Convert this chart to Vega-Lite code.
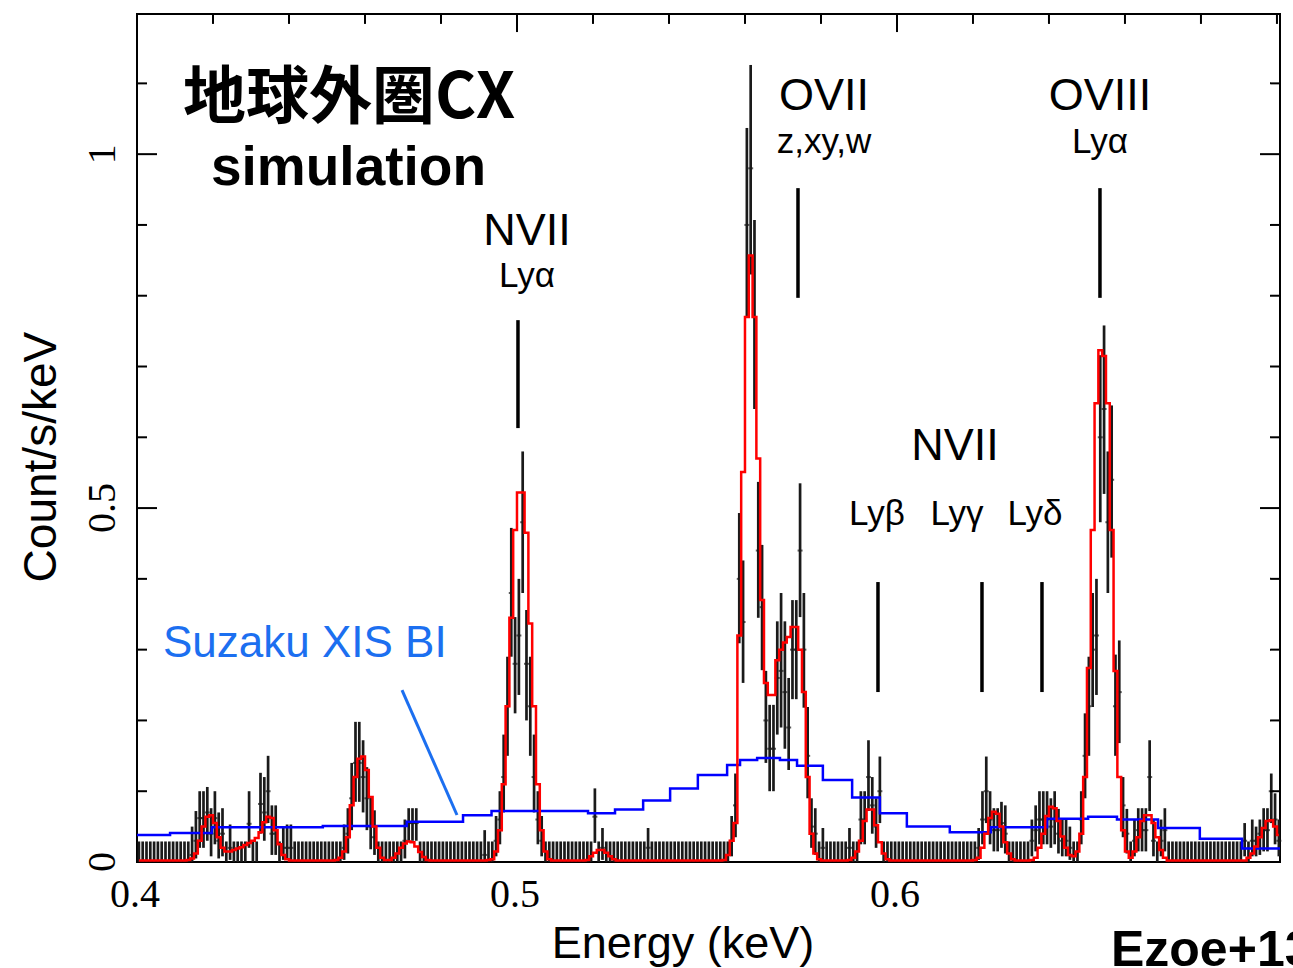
{
  "$schema": "https://vega.github.io/schema/vega-lite/v6.json",
  "width": 1143,
  "height": 848,
  "autosize": {"type": "none"},
  "padding": {"left": 137, "top": 14, "right": 13, "bottom": 106},
  "background": "white",
  "config": {"view": {"stroke": "black", "strokeWidth": 2}},
  "datasets": {
    "spec": [
      {"e":0.4005,"lo":0,"hi":0.029,"v":0,"m":0.002},{"e":0.4015,"lo":0,"hi":0.029,"v":0,"m":0.002},{"e":0.4025,"lo":0,"hi":0.029,"v":0,"m":0.002},{"e":0.4035,"lo":0,"hi":0.029,"v":0,"m":0.002},{"e":0.4045,"lo":0,"hi":0.029,"v":0,"m":0.002},
      {"e":0.4055,"lo":0,"hi":0.029,"v":0,"m":0.002},{"e":0.4065,"lo":0,"hi":0.029,"v":0,"m":0.002},{"e":0.4075,"lo":0,"hi":0.029,"v":0,"m":0.002},{"e":0.4085,"lo":0,"hi":0.029,"v":0,"m":0.002},{"e":0.4095,"lo":0,"hi":0.029,"v":0,"m":0.002},
      {"e":0.4105,"lo":0,"hi":0.029,"v":0,"m":0.002},{"e":0.4115,"lo":0,"hi":0.029,"v":0,"m":0.002},{"e":0.4125,"lo":0,"hi":0.029,"v":0,"m":0.002},{"e":0.4135,"lo":0,"hi":0.029,"v":0,"m":0.003},{"e":0.4145,"lo":0,"hi":0.05,"v":0.01,"m":0.005},
      {"e":0.4155,"lo":0.005,"hi":0.072,"v":0.03,"m":0.012},{"e":0.4165,"lo":0.02,"hi":0.1,"v":0.062,"m":0.03},{"e":0.4175,"lo":0.02,"hi":0.1,"v":0.062,"m":0.05},{"e":0.4185,"lo":0.03,"hi":0.106,"v":0.07,"m":0.064},{"e":0.4195,"lo":0.008,"hi":0.076,"v":0.04,"m":0.066},
      {"e":0.4205,"lo":0.025,"hi":0.1,"v":0.062,"m":0.055},{"e":0.4215,"lo":0.005,"hi":0.07,"v":0.03,"m":0.035},{"e":0.4225,"lo":0.008,"hi":0.076,"v":0.04,"m":0.02},{"e":0.4235,"lo":0,"hi":0.029,"v":0,"m":0.015},{"e":0.4245,"lo":0.003,"hi":0.053,"v":0.02,"m":0.015},
      {"e":0.4255,"lo":0,"hi":0.029,"v":0,"m":0.017},{"e":0.4265,"lo":0,"hi":0.029,"v":0,"m":0.019},{"e":0.4275,"lo":0,"hi":0.029,"v":0,"m":0.021},{"e":0.4285,"lo":0,"hi":0.029,"v":0,"m":0.024},{"e":0.4295,"lo":0.02,"hi":0.1,"v":0.054,"m":0.027},
      {"e":0.4305,"lo":0,"hi":0.029,"v":0,"m":0.03},{"e":0.4315,"lo":0,"hi":0.029,"v":0,"m":0.034},{"e":0.4325,"lo":0.04,"hi":0.126,"v":0.082,"m":0.042},{"e":0.4335,"lo":0.03,"hi":0.12,"v":0.07,"m":0.056},{"e":0.4345,"lo":0.055,"hi":0.15,"v":0.1,"m":0.064},
      {"e":0.4355,"lo":0.01,"hi":0.08,"v":0.04,"m":0.062},{"e":0.4365,"lo":0.01,"hi":0.08,"v":0.04,"m":0.045},{"e":0.4375,"lo":0,"hi":0.029,"v":0,"m":0.025},{"e":0.4385,"lo":0.003,"hi":0.05,"v":0.02,"m":0.01},{"e":0.4395,"lo":0.003,"hi":0.053,"v":0.02,"m":0.004},
      {"e":0.4405,"lo":0.003,"hi":0.053,"v":0.02,"m":0.002},{"e":0.4415,"lo":0,"hi":0.029,"v":0,"m":0.002},{"e":0.4425,"lo":0,"hi":0.029,"v":0,"m":0.002},{"e":0.4435,"lo":0,"hi":0.029,"v":0,"m":0.002},{"e":0.4445,"lo":0,"hi":0.029,"v":0,"m":0.002},
      {"e":0.4455,"lo":0,"hi":0.029,"v":0,"m":0.002},{"e":0.4465,"lo":0,"hi":0.029,"v":0,"m":0.002},{"e":0.4475,"lo":0,"hi":0.029,"v":0,"m":0.002},{"e":0.4485,"lo":0,"hi":0.029,"v":0,"m":0.002},{"e":0.4495,"lo":0,"hi":0.029,"v":0,"m":0.002},
      {"e":0.4505,"lo":0,"hi":0.029,"v":0,"m":0.002},{"e":0.4515,"lo":0,"hi":0.029,"v":0,"m":0.002},{"e":0.4525,"lo":0,"hi":0.029,"v":0,"m":0.003},{"e":0.4535,"lo":0,"hi":0.029,"v":0,"m":0.006},{"e":0.4545,"lo":0.003,"hi":0.053,"v":0.02,"m":0.015},
      {"e":0.4555,"lo":0.012,"hi":0.076,"v":0.04,"m":0.035},{"e":0.4565,"lo":0.045,"hi":0.14,"v":0.09,"m":0.08},{"e":0.4575,"lo":0.085,"hi":0.198,"v":0.14,"m":0.12},{"e":0.4585,"lo":0.085,"hi":0.198,"v":0.14,"m":0.146},{"e":0.4595,"lo":0.07,"hi":0.172,"v":0.12,"m":0.149},
      {"e":0.4605,"lo":0.045,"hi":0.134,"v":0.09,"m":0.13},{"e":0.4615,"lo":0.018,"hi":0.092,"v":0.05,"m":0.092},{"e":0.4625,"lo":0.01,"hi":0.073,"v":0.035,"m":0.05},{"e":0.4635,"lo":0,"hi":0.029,"v":0,"m":0.02},{"e":0.4645,"lo":0,"hi":0.029,"v":0,"m":0.006},
      {"e":0.4655,"lo":0,"hi":0.029,"v":0,"m":0.003},{"e":0.4665,"lo":0,"hi":0.029,"v":0,"m":0.003},{"e":0.4675,"lo":0,"hi":0.029,"v":0,"m":0.006},{"e":0.4685,"lo":0,"hi":0.029,"v":0,"m":0.012},{"e":0.4695,"lo":0,"hi":0.029,"v":0,"m":0.02},
      {"e":0.4705,"lo":0.005,"hi":0.06,"v":0.03,"m":0.026},{"e":0.4715,"lo":0.03,"hi":0.076,"v":0.055,"m":0.029},{"e":0.4725,"lo":0.03,"hi":0.076,"v":0.055,"m":0.028},{"e":0.4735,"lo":0.03,"hi":0.076,"v":0.055,"m":0.022},{"e":0.4745,"lo":0,"hi":0.029,"v":0,"m":0.014},
      {"e":0.4755,"lo":0,"hi":0.029,"v":0,"m":0.007},{"e":0.4765,"lo":0,"hi":0.029,"v":0,"m":0.003},{"e":0.4775,"lo":0,"hi":0.029,"v":0,"m":0.002},{"e":0.4785,"lo":0,"hi":0.029,"v":0,"m":0.002},{"e":0.4795,"lo":0,"hi":0.029,"v":0,"m":0.002},
      {"e":0.4805,"lo":0,"hi":0.029,"v":0,"m":0.002},{"e":0.4815,"lo":0,"hi":0.029,"v":0,"m":0.002},{"e":0.4825,"lo":0,"hi":0.029,"v":0,"m":0.002},{"e":0.4835,"lo":0,"hi":0.029,"v":0,"m":0.002},{"e":0.4845,"lo":0,"hi":0.029,"v":0,"m":0.002},
      {"e":0.4855,"lo":0,"hi":0.029,"v":0,"m":0.002},{"e":0.4865,"lo":0,"hi":0.029,"v":0,"m":0.002},{"e":0.4875,"lo":0,"hi":0.029,"v":0,"m":0.002},{"e":0.4885,"lo":0,"hi":0.029,"v":0,"m":0.002},{"e":0.4895,"lo":0,"hi":0.029,"v":0,"m":0.002},
      {"e":0.4905,"lo":0,"hi":0.029,"v":0,"m":0.002},{"e":0.4915,"lo":0,"hi":0.045,"v":0.01,"m":0.002},{"e":0.4925,"lo":0,"hi":0.029,"v":0,"m":0.003},{"e":0.4935,"lo":0,"hi":0.029,"v":0,"m":0.004},{"e":0.4945,"lo":0.008,"hi":0.065,"v":0.03,"m":0.015},
      {"e":0.4955,"lo":0.025,"hi":0.1,"v":0.06,"m":0.045},{"e":0.4965,"lo":0.07,"hi":0.18,"v":0.12,"m":0.11},{"e":0.4975,"lo":0.15,"hi":0.29,"v":0.22,"m":0.22},{"e":0.4985,"lo":0.29,"hi":0.472,"v":0.38,"m":0.345},{"e":0.4995,"lo":0.21,"hi":0.346,"v":0.28,"m":0.469},
      {"e":0.5005,"lo":0.236,"hi":0.4,"v":0.32,"m":0.522},{"e":0.5015,"lo":0.38,"hi":0.58,"v":0.48,"m":0.522},{"e":0.5025,"lo":0.2,"hi":0.356,"v":0.28,"m":0.465},{"e":0.5035,"lo":0.15,"hi":0.29,"v":0.22,"m":0.337},{"e":0.5045,"lo":0.07,"hi":0.18,"v":0.12,"m":0.22},
      {"e":0.5055,"lo":0.025,"hi":0.1,"v":0.06,"m":0.11},{"e":0.5065,"lo":0.008,"hi":0.065,"v":0.03,"m":0.045},{"e":0.5075,"lo":0,"hi":0.029,"v":0,"m":0.015},{"e":0.5085,"lo":0,"hi":0.029,"v":0,"m":0.004},{"e":0.5095,"lo":0,"hi":0.029,"v":0,"m":0.002},
      {"e":0.5105,"lo":0,"hi":0.029,"v":0,"m":0.002},{"e":0.5115,"lo":0,"hi":0.029,"v":0,"m":0.002},{"e":0.5125,"lo":0,"hi":0.029,"v":0,"m":0.002},{"e":0.5135,"lo":0,"hi":0.029,"v":0,"m":0.002},{"e":0.5145,"lo":0,"hi":0.029,"v":0,"m":0.002},
      {"e":0.5155,"lo":0,"hi":0.029,"v":0,"m":0.002},{"e":0.5165,"lo":0,"hi":0.029,"v":0,"m":0.002},{"e":0.5175,"lo":0,"hi":0.029,"v":0,"m":0.002},{"e":0.5185,"lo":0,"hi":0.029,"v":0,"m":0.003},{"e":0.5195,"lo":0,"hi":0.029,"v":0,"m":0.008},
      {"e":0.5205,"lo":0.027,"hi":0.104,"v":0.064,"m":0.013},{"e":0.5215,"lo":0,"hi":0.029,"v":0,"m":0.017},{"e":0.5225,"lo":0.003,"hi":0.048,"v":0.02,"m":0.017},{"e":0.5235,"lo":0,"hi":0.029,"v":0,"m":0.013},{"e":0.5245,"lo":0,"hi":0.029,"v":0,"m":0.008},
      {"e":0.5255,"lo":0,"hi":0.029,"v":0,"m":0.004},{"e":0.5265,"lo":0,"hi":0.029,"v":0,"m":0.002},{"e":0.5275,"lo":0,"hi":0.029,"v":0,"m":0.002},{"e":0.5285,"lo":0,"hi":0.029,"v":0,"m":0.002},{"e":0.5295,"lo":0,"hi":0.029,"v":0,"m":0.002},
      {"e":0.5305,"lo":0,"hi":0.029,"v":0,"m":0.002},{"e":0.5315,"lo":0,"hi":0.029,"v":0,"m":0.002},{"e":0.5325,"lo":0,"hi":0.029,"v":0,"m":0.002},{"e":0.5335,"lo":0,"hi":0.029,"v":0,"m":0.002},{"e":0.5345,"lo":0.003,"hi":0.048,"v":0.02,"m":0.002},
      {"e":0.5355,"lo":0,"hi":0.029,"v":0,"m":0.002},{"e":0.5365,"lo":0,"hi":0.029,"v":0,"m":0.002},{"e":0.5375,"lo":0,"hi":0.029,"v":0,"m":0.002},{"e":0.5385,"lo":0,"hi":0.029,"v":0,"m":0.002},{"e":0.5395,"lo":0,"hi":0.029,"v":0,"m":0.002},
      {"e":0.5405,"lo":0,"hi":0.029,"v":0,"m":0.002},{"e":0.5415,"lo":0,"hi":0.029,"v":0,"m":0.002},{"e":0.5425,"lo":0,"hi":0.029,"v":0,"m":0.002},{"e":0.5435,"lo":0,"hi":0.029,"v":0,"m":0.002},{"e":0.5445,"lo":0,"hi":0.029,"v":0,"m":0.002},
      {"e":0.5455,"lo":0,"hi":0.029,"v":0,"m":0.002},{"e":0.5465,"lo":0,"hi":0.029,"v":0,"m":0.002},{"e":0.5475,"lo":0,"hi":0.029,"v":0,"m":0.002},{"e":0.5485,"lo":0,"hi":0.029,"v":0,"m":0.002},{"e":0.5495,"lo":0,"hi":0.029,"v":0,"m":0.002},
      {"e":0.5505,"lo":0,"hi":0.029,"v":0,"m":0.002},{"e":0.5515,"lo":0,"hi":0.029,"v":0,"m":0.002},{"e":0.5525,"lo":0,"hi":0.029,"v":0,"m":0.002},{"e":0.5535,"lo":0,"hi":0.029,"v":0,"m":0.002},{"e":0.5545,"lo":0,"hi":0.029,"v":0,"m":0.003},
      {"e":0.5555,"lo":0,"hi":0.029,"v":0,"m":0.01},{"e":0.5565,"lo":0.008,"hi":0.065,"v":0.03,"m":0.03},{"e":0.5575,"lo":0.035,"hi":0.125,"v":0.08,"m":0.055},{"e":0.5585,"lo":0.309,"hi":0.493,"v":0.4,"m":0.32},{"e":0.5595,"lo":0.253,"hi":0.426,"v":0.339,"m":0.551},
      {"e":0.5605,"lo":0.77,"hi":1.037,"v":0.9,"m":0.77},{"e":0.5615,"lo":0.83,"hi":1.126,"v":0.98,"m":0.857},{"e":0.5625,"lo":0.64,"hi":0.907,"v":0.77,"m":0.77},{"e":0.5635,"lo":0.345,"hi":0.537,"v":0.44,"m":0.57},{"e":0.5645,"lo":0.271,"hi":0.448,"v":0.36,"m":0.37},
      {"e":0.5655,"lo":0.14,"hi":0.27,"v":0.2,"m":0.253},{"e":0.5665,"lo":0.1,"hi":0.222,"v":0.16,"m":0.236},{"e":0.5675,"lo":0.1,"hi":0.222,"v":0.16,"m":0.236},{"e":0.5685,"lo":0.18,"hi":0.34,"v":0.26,"m":0.285},{"e":0.5695,"lo":0.19,"hi":0.38,"v":0.27,"m":0.3},
      {"e":0.5705,"lo":0.16,"hi":0.34,"v":0.24,"m":0.31},{"e":0.5715,"lo":0.13,"hi":0.26,"v":0.19,"m":0.318},{"e":0.5725,"lo":0.23,"hi":0.37,"v":0.3,"m":0.332},{"e":0.5735,"lo":0.23,"hi":0.37,"v":0.3,"m":0.332},{"e":0.5745,"lo":0.346,"hi":0.535,"v":0.44,"m":0.3},
      {"e":0.5755,"lo":0.218,"hi":0.38,"v":0.3,"m":0.24},{"e":0.5765,"lo":0.09,"hi":0.219,"v":0.15,"m":0.12},{"e":0.5775,"lo":0.02,"hi":0.09,"v":0.05,"m":0.04},{"e":0.5785,"lo":0.01,"hi":0.076,"v":0.04,"m":0.012},{"e":0.5795,"lo":0,"hi":0.029,"v":0,"m":0.004},
      {"e":0.5805,"lo":0.003,"hi":0.048,"v":0.02,"m":0.002},{"e":0.5815,"lo":0,"hi":0.029,"v":0,"m":0.002},{"e":0.5825,"lo":0,"hi":0.029,"v":0,"m":0.002},{"e":0.5835,"lo":0,"hi":0.029,"v":0,"m":0.002},{"e":0.5845,"lo":0,"hi":0.029,"v":0,"m":0.002},
      {"e":0.5855,"lo":0,"hi":0.029,"v":0,"m":0.002},{"e":0.5865,"lo":0,"hi":0.029,"v":0,"m":0.002},{"e":0.5875,"lo":0.003,"hi":0.048,"v":0.02,"m":0.003},{"e":0.5885,"lo":0,"hi":0.029,"v":0,"m":0.006},{"e":0.5895,"lo":0,"hi":0.029,"v":0,"m":0.015},
      {"e":0.5905,"lo":0.025,"hi":0.1,"v":0.06,"m":0.03},{"e":0.5915,"lo":0.025,"hi":0.1,"v":0.06,"m":0.058},{"e":0.5925,"lo":0.072,"hi":0.172,"v":0.12,"m":0.074},{"e":0.5935,"lo":0.04,"hi":0.12,"v":0.08,"m":0.074},{"e":0.5945,"lo":0.02,"hi":0.09,"v":0.05,"m":0.052},
      {"e":0.5955,"lo":0.055,"hi":0.149,"v":0.1,"m":0.028},{"e":0.5965,"lo":0,"hi":0.029,"v":0,"m":0.012},{"e":0.5975,"lo":0,"hi":0.029,"v":0,"m":0.004},{"e":0.5985,"lo":0,"hi":0.029,"v":0,"m":0.002},{"e":0.5995,"lo":0,"hi":0.029,"v":0,"m":0.002},
      {"e":0.6005,"lo":0,"hi":0.029,"v":0,"m":0.002},{"e":0.6015,"lo":0,"hi":0.029,"v":0,"m":0.002},{"e":0.6025,"lo":0,"hi":0.029,"v":0,"m":0.002},{"e":0.6035,"lo":0,"hi":0.029,"v":0,"m":0.002},{"e":0.6045,"lo":0,"hi":0.029,"v":0,"m":0.002},
      {"e":0.6055,"lo":0,"hi":0.029,"v":0,"m":0.002},{"e":0.6065,"lo":0,"hi":0.029,"v":0,"m":0.002},{"e":0.6075,"lo":0,"hi":0.029,"v":0,"m":0.002},{"e":0.6085,"lo":0,"hi":0.029,"v":0,"m":0.002},{"e":0.6095,"lo":0,"hi":0.029,"v":0,"m":0.002},
      {"e":0.6105,"lo":0,"hi":0.029,"v":0,"m":0.002},{"e":0.6115,"lo":0,"hi":0.029,"v":0,"m":0.002},{"e":0.6125,"lo":0,"hi":0.029,"v":0,"m":0.002},{"e":0.6135,"lo":0,"hi":0.029,"v":0,"m":0.002},{"e":0.6145,"lo":0,"hi":0.029,"v":0,"m":0.002},
      {"e":0.6155,"lo":0,"hi":0.029,"v":0,"m":0.002},{"e":0.6165,"lo":0,"hi":0.029,"v":0,"m":0.002},{"e":0.6175,"lo":0,"hi":0.029,"v":0,"m":0.002},{"e":0.6185,"lo":0,"hi":0.029,"v":0,"m":0.002},{"e":0.6195,"lo":0,"hi":0.029,"v":0,"m":0.002},
      {"e":0.6205,"lo":0,"hi":0.029,"v":0,"m":0.003},{"e":0.6215,"lo":0.003,"hi":0.048,"v":0.02,"m":0.006},{"e":0.6225,"lo":0.025,"hi":0.1,"v":0.06,"m":0.02},{"e":0.6235,"lo":0.055,"hi":0.149,"v":0.1,"m":0.04},{"e":0.6245,"lo":0.025,"hi":0.1,"v":0.06,"m":0.062},
      {"e":0.6255,"lo":0.015,"hi":0.076,"v":0.045,"m":0.071},{"e":0.6265,"lo":0.015,"hi":0.076,"v":0.045,"m":0.068},{"e":0.6275,"lo":0.02,"hi":0.085,"v":0.055,"m":0.05},{"e":0.6285,"lo":0.012,"hi":0.08,"v":0.04,"m":0.028},{"e":0.6295,"lo":0,"hi":0.029,"v":0,"m":0.012},
      {"e":0.6305,"lo":0,"hi":0.029,"v":0,"m":0.004},{"e":0.6315,"lo":0,"hi":0.029,"v":0,"m":0.002},{"e":0.6325,"lo":0,"hi":0.029,"v":0,"m":0.002},{"e":0.6335,"lo":0,"hi":0.029,"v":0,"m":0.002},{"e":0.6345,"lo":0,"hi":0.029,"v":0,"m":0.002},
      {"e":0.6355,"lo":0.008,"hi":0.06,"v":0.03,"m":0.003},{"e":0.6365,"lo":0.015,"hi":0.08,"v":0.045,"m":0.006},{"e":0.6375,"lo":0.025,"hi":0.1,"v":0.06,"m":0.02},{"e":0.6385,"lo":0.025,"hi":0.1,"v":0.06,"m":0.04},{"e":0.6395,"lo":0.025,"hi":0.1,"v":0.06,"m":0.065},
      {"e":0.6405,"lo":0.02,"hi":0.09,"v":0.05,"m":0.078},{"e":0.6415,"lo":0.025,"hi":0.1,"v":0.06,"m":0.076},{"e":0.6425,"lo":0.012,"hi":0.075,"v":0.04,"m":0.058},{"e":0.6435,"lo":0.008,"hi":0.06,"v":0.03,"m":0.036},{"e":0.6445,"lo":0.008,"hi":0.06,"v":0.03,"m":0.02},
      {"e":0.6455,"lo":0.003,"hi":0.05,"v":0.02,"m":0.01},{"e":0.6465,"lo":0,"hi":0.029,"v":0,"m":0.008},{"e":0.6475,"lo":0,"hi":0.029,"v":0,"m":0.015},{"e":0.6485,"lo":0.025,"hi":0.1,"v":0.06,"m":0.04},{"e":0.6495,"lo":0.09,"hi":0.21,"v":0.15,"m":0.12},
      {"e":0.6505,"lo":0.15,"hi":0.29,"v":0.22,"m":0.274},{"e":0.6515,"lo":0.219,"hi":0.38,"v":0.3,"m":0.469},{"e":0.6525,"lo":0.236,"hi":0.4,"v":0.32,"m":0.648},{"e":0.6535,"lo":0.48,"hi":0.716,"v":0.6,"m":0.723},{"e":0.6545,"lo":0.52,"hi":0.758,"v":0.64,"m":0.715},
      {"e":0.6555,"lo":0.38,"hi":0.58,"v":0.48,"m":0.648},{"e":0.6565,"lo":0.43,"hi":0.645,"v":0.54,"m":0.469},{"e":0.6575,"lo":0.15,"hi":0.293,"v":0.22,"m":0.27},{"e":0.6585,"lo":0.168,"hi":0.313,"v":0.24,"m":0.12},{"e":0.6595,"lo":0.035,"hi":0.12,"v":0.08,"m":0.045},
      {"e":0.6605,"lo":0.012,"hi":0.075,"v":0.04,"m":0.015},{"e":0.6615,"lo":0,"hi":0.029,"v":0,"m":0.006},{"e":0.6625,"lo":0.008,"hi":0.06,"v":0.03,"m":0.015},{"e":0.6635,"lo":0.015,"hi":0.076,"v":0.045,"m":0.035},{"e":0.6645,"lo":0.015,"hi":0.076,"v":0.045,"m":0.058},
      {"e":0.6655,"lo":0.015,"hi":0.076,"v":0.045,"m":0.066},{"e":0.6665,"lo":0.072,"hi":0.172,"v":0.12,"m":0.066},{"e":0.6675,"lo":0.008,"hi":0.06,"v":0.03,"m":0.055},{"e":0.6685,"lo":0,"hi":0.029,"v":0,"m":0.035},{"e":0.6695,"lo":0.008,"hi":0.06,"v":0.03,"m":0.017},
      {"e":0.6705,"lo":0.015,"hi":0.076,"v":0.045,"m":0.006},{"e":0.6715,"lo":0,"hi":0.029,"v":0,"m":0.002},{"e":0.6725,"lo":0,"hi":0.029,"v":0,"m":0.002},{"e":0.6735,"lo":0,"hi":0.029,"v":0,"m":0.002},{"e":0.6745,"lo":0,"hi":0.029,"v":0,"m":0.002},
      {"e":0.6755,"lo":0,"hi":0.029,"v":0,"m":0.002},{"e":0.6765,"lo":0,"hi":0.029,"v":0,"m":0.002},{"e":0.6775,"lo":0,"hi":0.029,"v":0,"m":0.002},{"e":0.6785,"lo":0,"hi":0.029,"v":0,"m":0.002},{"e":0.6795,"lo":0,"hi":0.029,"v":0,"m":0.002},
      {"e":0.6805,"lo":0,"hi":0.029,"v":0,"m":0.002},{"e":0.6815,"lo":0,"hi":0.029,"v":0,"m":0.002},{"e":0.6825,"lo":0,"hi":0.029,"v":0,"m":0.002},{"e":0.6835,"lo":0,"hi":0.029,"v":0,"m":0.002},{"e":0.6845,"lo":0,"hi":0.029,"v":0,"m":0.002},
      {"e":0.6855,"lo":0,"hi":0.029,"v":0,"m":0.002},{"e":0.6865,"lo":0,"hi":0.029,"v":0,"m":0.002},{"e":0.6875,"lo":0,"hi":0.029,"v":0,"m":0.002},{"e":0.6885,"lo":0,"hi":0.029,"v":0,"m":0.002},{"e":0.6895,"lo":0,"hi":0.029,"v":0,"m":0.002},
      {"e":0.6905,"lo":0,"hi":0.029,"v":0,"m":0.002},{"e":0.6915,"lo":0.008,"hi":0.055,"v":0.03,"m":0.002},{"e":0.6925,"lo":0,"hi":0.029,"v":0,"m":0.006},{"e":0.6935,"lo":0.008,"hi":0.06,"v":0.03,"m":0.012},{"e":0.6945,"lo":0.008,"hi":0.05,"v":0.03,"m":0.022},
      {"e":0.6955,"lo":0.01,"hi":0.06,"v":0.04,"m":0.035},{"e":0.6965,"lo":0.015,"hi":0.076,"v":0.045,"m":0.048},{"e":0.6975,"lo":0.015,"hi":0.076,"v":0.045,"m":0.058},{"e":0.6985,"lo":0.055,"hi":0.125,"v":0.1,"m":0.059},{"e":0.6995,"lo":0.025,"hi":0.097,"v":0.06,"m":0.05},
      {"e":0.7005,"lo":0.008,"hi":0.06,"v":0.03,"m":0.038}
    ],
    "xis": [
      {"e":0.4,"b":0.038},{"e":0.4087,"b":0.041},{"e":0.4197,"b":0.049},{"e":0.4489,"b":0.051},{"e":0.471,"b":0.057},
      {"e":0.4858,"b":0.066},{"e":0.4933,"b":0.072},{"e":0.5187,"b":0.069},{"e":0.5258,"b":0.074},{"e":0.5332,"b":0.087},
      {"e":0.5403,"b":0.104},{"e":0.5476,"b":0.123},{"e":0.5553,"b":0.137},{"e":0.5587,"b":0.144},{"e":0.5632,"b":0.147},
      {"e":0.5692,"b":0.144},{"e":0.5737,"b":0.136},{"e":0.5805,"b":0.116},{"e":0.5882,"b":0.091},{"e":0.5955,"b":0.069},
      {"e":0.6026,"b":0.05},{"e":0.6139,"b":0.042},{"e":0.6247,"b":0.049},{"e":0.6395,"b":0.061},{"e":0.6503,"b":0.064},
      {"e":0.6579,"b":0.06},{"e":0.6687,"b":0.048},{"e":0.6797,"b":0.033},{"e":0.6908,"b":0.019},{"e":0.7008,"b":0.019}
    ],
    "xticks": [
      {"e":0.42,"major":false},{"e":0.44,"major":false},{"e":0.46,"major":false},{"e":0.48,"major":false},{"e":0.5,"major":true},
      {"e":0.52,"major":false},{"e":0.54,"major":false},{"e":0.56,"major":false},{"e":0.58,"major":false},{"e":0.6,"major":true},
      {"e":0.62,"major":false},{"e":0.64,"major":false},{"e":0.66,"major":false},{"e":0.68,"major":false},{"e":0.7,"major":false}
    ],
    "yticks": [
      {"v":0.1,"major":false},{"v":0.2,"major":false},{"v":0.3,"major":false},{"v":0.4,"major":false},{"v":0.5,"major":true},
      {"v":0.6,"major":false},{"v":0.7,"major":false},{"v":0.8,"major":false},{"v":0.9,"major":false},{"v":1.0,"major":true},
      {"v":1.1,"major":false}
    ],
    "markers": [
      {"e":0.50026,"lo":0.613,"hi":0.7655},
      {"e":0.57395,"lo":0.797,"hi":0.952},
      {"e":0.65342,"lo":0.797,"hi":0.952},
      {"e":0.595,"lo":0.2401,"hi":0.3955},
      {"e":0.62237,"lo":0.2401,"hi":0.3955},
      {"e":0.63816,"lo":0.2401,"hi":0.3955}
    ],
    "pointer": [
      {"e":0.46974,"v":0.2429,"e2":0.48421,"v2":0.0664}
    ],
    "labels": [
      {"e":0.50263,"v":0.8715,"txt":"NVII","kind":"ion"},
      {"e":0.50263,"v":0.812,"txt":"Lyα","kind":"line"},
      {"e":0.58079,"v":1.0621,"txt":"OVII","kind":"ion"},
      {"e":0.58079,"v":1.0014,"txt":"z,xy,w","kind":"line"},
      {"e":0.65342,"v":1.0621,"txt":"OVIII","kind":"ion"},
      {"e":0.65342,"v":1.0014,"txt":"Lyα","kind":"line"},
      {"e":0.61526,"v":0.5678,"txt":"NVII","kind":"ion"},
      {"e":0.59474,"v":0.476,"txt":"Lyβ","kind":"line"},
      {"e":0.61579,"v":0.476,"txt":"Lyγ","kind":"line"},
      {"e":0.63632,"v":0.476,"txt":"Lyδ","kind":"line"},
      {"e":0.40684,"v":0.2895,"txt":"Suzaku XIS BI","kind":"inst"},
      {"e":0.41211,"v":1.0508,"txt":"地球外圏CX","kind":"head"},
      {"e":0.41947,"v":0.9562,"txt":"simulation","kind":"sub"},
      {"e":0.65632,"v":-0.1469,"txt":"Ezoe+13","kind":"cite"},
      {"e":0.3995,"v":-0.0636,"txt":"0.4","kind":"xlab"},
      {"e":0.4995,"v":-0.0636,"txt":"0.5","kind":"xlab"},
      {"e":0.5995,"v":-0.0636,"txt":"0.6","kind":"xlab"},
      {"e":0.39421,"v":0,"txt":"0","kind":"ylab"},
      {"e":0.39421,"v":0.5,"txt":"0.5","kind":"ylab"},
      {"e":0.39421,"v":1,"txt":"1","kind":"ylab"},
      {"e":0.54368,"v":-0.1356,"txt":"Energy (keV)","kind":"xtitle"},
      {"e":0.37868,"v":0.572,"txt":"Count/s/keV","kind":"ytitle"}
    ]
  },
  "layer": [
    {
      "data": {"name": "spec"},
      "mark": {"type": "rule", "color": "#1a1a1a", "strokeWidth": 2.7},
      "encoding": {
        "x": {"field": "e", "type": "quantitative", "scale": {"domain": [0.4, 0.7008], "nice": false, "zero": false}, "axis": null},
        "y": {"field": "lo", "type": "quantitative", "scale": {"domain": [0, 1.198], "nice": false, "zero": false}, "axis": null},
        "y2": {"field": "hi"}
      }
    },
    {
      "data": {"name": "spec"},
      "transform": [{"filter": "datum.v > 0"}],
      "mark": {"type": "tick", "orient": "horizontal", "color": "#1a1a1a", "size": 5, "thickness": 2},
      "encoding": {
        "x": {"field": "e", "type": "quantitative", "axis": null},
        "y": {"field": "v", "type": "quantitative", "axis": null}
      }
    },
    {
      "data": {"name": "xis"},
      "mark": {"type": "line", "interpolate": "step-after", "color": "#0000ff", "strokeWidth": 2.5},
      "encoding": {
        "x": {"field": "e", "type": "quantitative", "axis": null},
        "y": {"field": "b", "type": "quantitative", "axis": null}
      }
    },
    {
      "data": {"name": "spec"},
      "mark": {"type": "line", "interpolate": "step", "color": "#ff0000", "strokeWidth": 2.5},
      "encoding": {
        "x": {"field": "e", "type": "quantitative", "axis": null},
        "y": {"field": "m", "type": "quantitative", "axis": null}
      }
    },
    {
      "data": {"name": "markers"},
      "mark": {"type": "rule", "color": "black", "strokeWidth": 3.5},
      "encoding": {
        "x": {"field": "e", "type": "quantitative", "axis": null},
        "y": {"field": "lo", "type": "quantitative", "axis": null},
        "y2": {"field": "hi"}
      }
    },
    {
      "data": {"name": "pointer"},
      "mark": {"type": "rule", "color": "#1c6ff0", "strokeWidth": 3},
      "encoding": {
        "x": {"field": "e", "type": "quantitative", "axis": null},
        "y": {"field": "v", "type": "quantitative", "axis": null},
        "x2": {"field": "e2"},
        "y2": {"field": "v2"}
      }
    },
    {
      "data": {"name": "xticks"},
      "transform": [{"filter": "datum.major"}],
      "mark": {"type": "rule", "color": "black", "strokeWidth": 2},
      "encoding": {
        "x": {"field": "e", "type": "quantitative", "axis": null},
        "y": {"datum": 1.198, "type": "quantitative", "axis": null},
        "y2": {"datum": 1.1725}
      }
    },
    {
      "data": {"name": "xticks"},
      "transform": [{"filter": "!datum.major"}],
      "mark": {"type": "rule", "color": "black", "strokeWidth": 2},
      "encoding": {
        "x": {"field": "e", "type": "quantitative", "axis": null},
        "y": {"datum": 1.198, "type": "quantitative", "axis": null},
        "y2": {"datum": 1.184}
      }
    },
    {
      "data": {"name": "yticks"},
      "transform": [{"filter": "datum.major"}],
      "mark": {"type": "rule", "color": "black", "strokeWidth": 2},
      "encoding": {
        "y": {"field": "v", "type": "quantitative", "axis": null},
        "x": {"datum": 0.4, "type": "quantitative", "axis": null},
        "x2": {"datum": 0.40526}
      }
    },
    {
      "data": {"name": "yticks"},
      "transform": [{"filter": "!datum.major"}],
      "mark": {"type": "rule", "color": "black", "strokeWidth": 2},
      "encoding": {
        "y": {"field": "v", "type": "quantitative", "axis": null},
        "x": {"datum": 0.4, "type": "quantitative", "axis": null},
        "x2": {"datum": 0.40263}
      }
    },
    {
      "data": {"name": "yticks"},
      "transform": [{"filter": "datum.major"}],
      "mark": {"type": "rule", "color": "black", "strokeWidth": 2},
      "encoding": {
        "y": {"field": "v", "type": "quantitative", "axis": null},
        "x": {"datum": 0.7008, "type": "quantitative", "axis": null},
        "x2": {"datum": 0.69554}
      }
    },
    {
      "data": {"name": "yticks"},
      "transform": [{"filter": "!datum.major"}],
      "mark": {"type": "rule", "color": "black", "strokeWidth": 2},
      "encoding": {
        "y": {"field": "v", "type": "quantitative", "axis": null},
        "x": {"datum": 0.7008, "type": "quantitative", "axis": null},
        "x2": {"datum": 0.69817}
      }
    },
    {
      "data": {"name": "labels"},
      "transform": [{"filter": "datum.kind == 'ion'"}],
      "mark": {"type": "text", "font": "Liberation Sans", "fontSize": 45, "color": "black", "align": "center", "baseline": "alphabetic"},
      "encoding": {
        "x": {"field": "e", "type": "quantitative", "axis": null},
        "y": {"field": "v", "type": "quantitative", "axis": null},
        "text": {"field": "txt"}
      }
    },
    {
      "data": {"name": "labels"},
      "transform": [{"filter": "datum.kind == 'line'"}],
      "mark": {"type": "text", "font": "Liberation Sans", "fontSize": 35, "color": "black", "align": "center", "baseline": "alphabetic"},
      "encoding": {
        "x": {"field": "e", "type": "quantitative", "axis": null},
        "y": {"field": "v", "type": "quantitative", "axis": null},
        "text": {"field": "txt"}
      }
    },
    {
      "data": {"name": "labels"},
      "transform": [{"filter": "datum.kind == 'inst'"}],
      "mark": {"type": "text", "font": "Liberation Sans", "fontSize": 44, "color": "#1c6ff0", "align": "left", "baseline": "alphabetic"},
      "encoding": {
        "x": {"field": "e", "type": "quantitative", "axis": null},
        "y": {"field": "v", "type": "quantitative", "axis": null},
        "text": {"field": "txt"}
      }
    },
    {
      "data": {"name": "labels"},
      "transform": [{"filter": "datum.kind == 'head'"}],
      "mark": {"type": "text", "font": "Noto Sans CJK JP", "fontSize": 63, "fontWeight": "bold", "color": "black", "align": "left", "baseline": "alphabetic"},
      "encoding": {
        "x": {"field": "e", "type": "quantitative", "axis": null},
        "y": {"field": "v", "type": "quantitative", "axis": null},
        "text": {"field": "txt"}
      }
    },
    {
      "data": {"name": "labels"},
      "transform": [{"filter": "datum.kind == 'sub'"}],
      "mark": {"type": "text", "font": "Liberation Sans", "fontSize": 55, "fontWeight": "bold", "color": "black", "align": "left", "baseline": "alphabetic"},
      "encoding": {
        "x": {"field": "e", "type": "quantitative", "axis": null},
        "y": {"field": "v", "type": "quantitative", "axis": null},
        "text": {"field": "txt"}
      }
    },
    {
      "data": {"name": "labels"},
      "transform": [{"filter": "datum.kind == 'cite'"}],
      "mark": {"type": "text", "font": "Liberation Sans", "fontSize": 50, "fontWeight": "bold", "color": "black", "align": "left", "baseline": "alphabetic"},
      "encoding": {
        "x": {"field": "e", "type": "quantitative", "axis": null},
        "y": {"field": "v", "type": "quantitative", "axis": null},
        "text": {"field": "txt"}
      }
    },
    {
      "data": {"name": "labels"},
      "transform": [{"filter": "datum.kind == 'xlab'"}],
      "mark": {"type": "text", "font": "Liberation Serif", "fontSize": 40, "color": "black", "align": "center", "baseline": "alphabetic"},
      "encoding": {
        "x": {"field": "e", "type": "quantitative", "axis": null},
        "y": {"field": "v", "type": "quantitative", "axis": null},
        "text": {"field": "txt"}
      }
    },
    {
      "data": {"name": "labels"},
      "transform": [{"filter": "datum.kind == 'ylab'"}],
      "mark": {"type": "text", "font": "Liberation Serif", "fontSize": 40, "color": "black", "align": "center", "baseline": "alphabetic", "angle": 270},
      "encoding": {
        "x": {"field": "e", "type": "quantitative", "axis": null},
        "y": {"field": "v", "type": "quantitative", "axis": null},
        "text": {"field": "txt"}
      }
    },
    {
      "data": {"name": "labels"},
      "transform": [{"filter": "datum.kind == 'xtitle'"}],
      "mark": {"type": "text", "font": "Liberation Sans", "fontSize": 45, "color": "black", "align": "center", "baseline": "alphabetic"},
      "encoding": {
        "x": {"field": "e", "type": "quantitative", "axis": null},
        "y": {"field": "v", "type": "quantitative", "axis": null},
        "text": {"field": "txt"}
      }
    },
    {
      "data": {"name": "labels"},
      "transform": [{"filter": "datum.kind == 'ytitle'"}],
      "mark": {"type": "text", "font": "Liberation Sans", "fontSize": 46, "color": "black", "align": "center", "baseline": "alphabetic", "angle": 270},
      "encoding": {
        "x": {"field": "e", "type": "quantitative", "axis": null},
        "y": {"field": "v", "type": "quantitative", "axis": null},
        "text": {"field": "txt"}
      }
    }
  ]
}
